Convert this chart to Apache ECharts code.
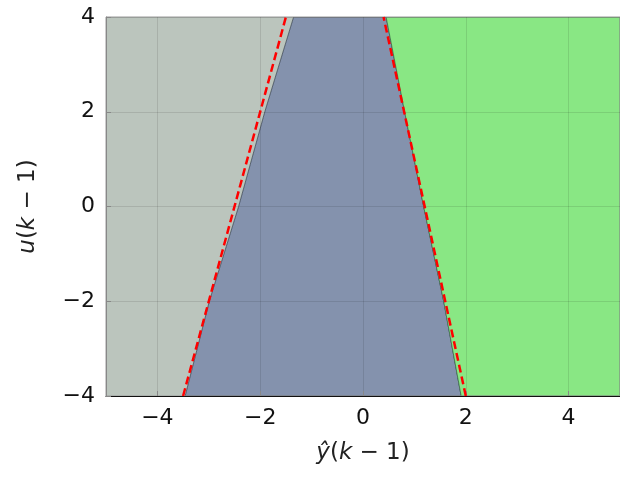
<!DOCTYPE html>
<html>
<head>
<meta charset="utf-8">
<script src="https://cdn.jsdelivr.net/npm/echarts@6/dist/echarts.min.js"></script>
<style>
  html, body { margin: 0; padding: 0; background: #fff; }
  #chart { width: 620px; height: 477px; }
</style>
</head>
<body>
<div id="chart"></div>
<script>
// Input levels u(k-1) at which the region boundaries are sampled
const uLevels = [-4, -2, 0, 2, 4];
// ŷ(k-1) of the left boundary (gray | blue) at each u level
const leftEdge = [-3.46, -2.99, -2.42, -1.91, -1.35];
// ŷ(k-1) of the right boundary (blue | green) at each u level
const rightEdge = [1.91, 1.57, 1.18, 0.81, 0.45];
// Dashed reference lines: [ŷ, u] end points
const dashLeft = [[-3.5, -4], [-1.5, 4]];
const dashRight = [[2.0, -4], [0.4, 4]];
// Axis extents and tick values
const xRange = [-5, 5];
const yRange = [-4, 4];
const xTicks = [-4, -2, 0, 2, 4];
const yTicks = [-4, -2, 0, 2, 4];

const leftPts = uLevels.map((u, i) => [leftEdge[i], u]);
const rightPts = uLevels.map((u, i) => [rightEdge[i], u]);

const regions = [
  {
    name: 'left',
    pts: [[xRange[0], yRange[0]]].concat(leftPts, [[xRange[0], yRange[1]]]),
    fill: '#bbc5bd', stroke: null
  },
  {
    name: 'middle',
    pts: leftPts.concat(rightPts.slice().reverse()),
    fill: '#8492ad', stroke: 'rgba(30,40,50,0.75)'
  },
  {
    name: 'right',
    pts: rightPts.concat([[xRange[1], yRange[1]], [xRange[1], yRange[0]]]),
    fill: '#89e784', stroke: 'rgba(40,90,50,0.7)'
  }
];

function polygonSeries(r) {
  return {
    type: 'custom',
    name: r.name,
    z: -1,
    silent: true,
    clip: true,
    data: [0],
    renderItem: function (params, api) {
      const points = r.pts.map(p => api.coord(p));
      return {
        type: 'polygon',
        shape: { points: points },
        style: {
          fill: r.fill,
          stroke: r.stroke || r.fill,
          lineWidth: r.stroke ? 0.8 : 0
        }
      };
    }
  };
}

function dashSeries(pts) {
  return {
    type: 'line',
    data: pts,
    z: 5,
    silent: true,
    symbol: 'none',
    lineStyle: { color: '#ff0000', width: 2.5, type: [8, 4] }
  };
}

const font = 'DejaVu Sans';
const nameRich = {
  i: { fontFamily: font, fontSize: 23, fontStyle: 'italic', color: '#222' },
  n: { fontFamily: font, fontSize: 23, color: '#222' }
};
const fmt = v => (v < 0 ? '\u2212' + Math.abs(v) : String(v));

const chart = echarts.init(document.getElementById('chart'), null, { renderer: 'canvas' });

chart.setOption({
  animation: false,
  backgroundColor: '#ffffff',
  grid: {
    left: 106, top: 17, width: 518, height: 379,
    show: true, borderColor: '#9a9a9a', borderWidth: 1, backgroundColor: 'transparent'
  },
  xAxis: {
    type: 'value',
    min: xRange[0], max: xRange[1],
    name: '{i|ŷ}{n|(}{i|k}{n| − 1)}',
    nameLocation: 'middle',
    nameGap: 46,
    nameTextStyle: { rich: nameRich },
    axisLine: { show: true, onZero: false, lineStyle: { color: '#111', width: 1.2 } },
    axisTick: { show: true, inside: true, length: 5, customValues: xTicks, lineStyle: { color: '#888' } },
    axisLabel: {
      customValues: xTicks, margin: 11, fontFamily: font, fontSize: 22, color: '#111',
      formatter: fmt
    },
    splitLine: { show: true, lineStyle: { color: 'rgba(0,0,0,0.1)', width: 1 } }
  },
  yAxis: {
    type: 'value',
    min: yRange[0], max: yRange[1], interval: 2,
    name: '{i|u}{n|(}{i|k}{n| − 1)}',
    nameLocation: 'middle',
    nameGap: 66,
    nameRotate: 90,
    nameTextStyle: { rich: nameRich },
    axisLine: { show: true, onZero: false, lineStyle: { color: '#888', width: 1 } },
    axisTick: { show: true, inside: true, length: 5, customValues: yTicks, lineStyle: { color: '#888' } },
    axisLabel: {
      customValues: yTicks, margin: 11, fontFamily: font, fontSize: 22, color: '#111',
      formatter: fmt
    },
    splitLine: { show: true, lineStyle: { color: 'rgba(0,0,0,0.1)', width: 1 } }
  },
  series: regions.map(polygonSeries).concat([dashSeries(dashLeft), dashSeries(dashRight)])
});
</script>
</body>
</html>
